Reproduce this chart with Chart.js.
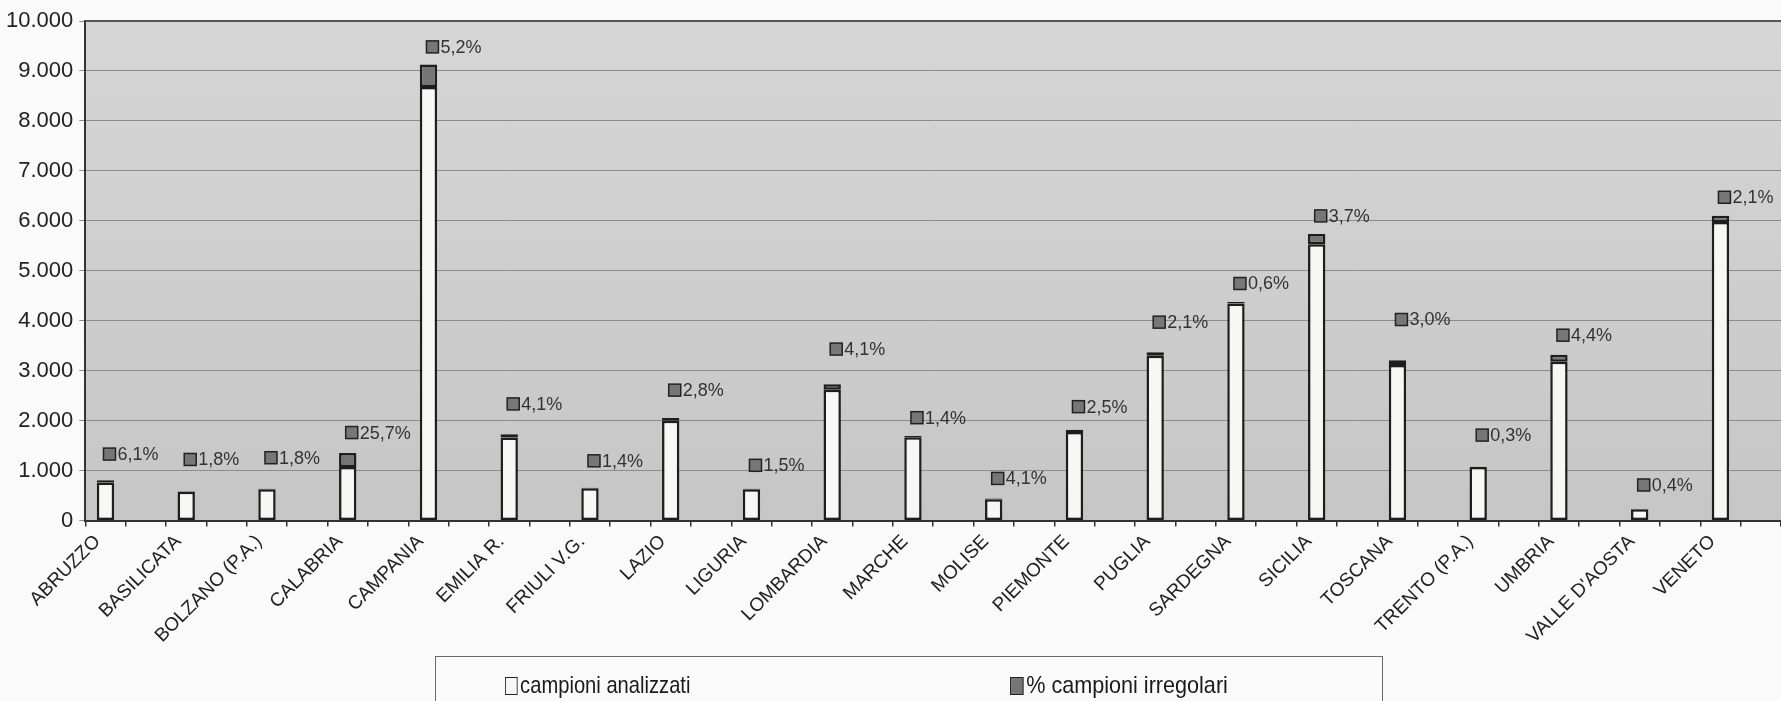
<!DOCTYPE html>
<html>
<head>
<meta charset="utf-8">
<script src="https://cdn.jsdelivr.net/npm/chart.js@4.4.1/dist/chart.umd.min.js"></script>
<style>
    html, body { margin: 0; padding: 0; background: #fafafa; overflow: hidden; }
    #wrap { position: relative; width: 1781px; height: 701px; }
    #legend {
        position: absolute; left: 435px; top: 656px; width: 948px; height: 60px;
        border: 1.5px solid #6a6a6a; box-sizing: border-box;
        font-family: 'Liberation Sans', Arial, sans-serif;
        font-size: 24px; color: #1a1a1a;
    }
    .item { position: absolute; top: 15px; white-space: nowrap; line-height: 26px; transform: scaleX(0.84); transform-origin: left center; }
    .key { display: inline-block; width: 13px; height: 16px; border: 1.5px solid #222; margin-right: 3px; vertical-align: -2px; }
</style>
</head>
<body>
<div id="wrap">
    <canvas id="chart" width="1781" height="701"></canvas>
    <div id="legend">
        <div class="item" style="left: 69px;"><span class="key" style="background:#f7f7f4"></span>campioni analizzati</div>
        <div class="item" style="left: 574px; transform: scaleX(0.9);"><span class="key" style="background:#767676"></span>% campioni irregolari</div>
    </div>
</div>
<script>
// regions, one bar each
const regions = ['ABRUZZO', 'BASILICATA', 'BOLZANO (P.A.)', 'CALABRIA', 'CAMPANIA', 'EMILIA R.', 'FRIULI V.G.',
    'LAZIO', 'LIGURIA', 'LOMBARDIA', 'MARCHE', 'MOLISE', 'PIEMONTE', 'PUGLIA', 'SARDEGNA', 'SICILIA',
    'TOSCANA', 'TRENTO (P.A.)', 'UMBRIA', "VALLE D'AOSTA", 'VENETO'];

// white part of the bar
const analizzati = [760, 577, 624, 1070, 8680, 1660, 647, 1995, 626, 2620, 1668, 425, 1772, 3300, 4346, 5530, 3115, 1072, 3176, 227, 5975];
// dark part on top
const irregolari = [48, 10, 11, 280, 450, 68, 9, 56, 9, 108, 23, 17, 44, 69, 26, 205, 95, 3, 140, 1, 125];
// percentage shown in the labels
const percentuali = [6.1, 1.8, 1.8, 25.7, 5.2, 4.1, 1.4, 2.8, 1.5, 4.1, 1.4, 4.1, 2.5, 2.1, 0.6, 3.7, 3.0, 0.3, 4.4, 0.4, 2.1];
// height (in samples) where each label sits
const labelAt = [1330, 1222, 1257, 1761, 9482, 2334, 1195, 2610, 1105, 3432, 2058, 843, 2279, 3971, 4745, 6098, 4024, 1710, 3710, 711, 6471];

const yTicks = [0, 1000, 2000, 3000, 4000, 5000, 6000, 7000, 8000, 9000, 10000];

// the original sheet has an empty column after every region
const slotLabels = [];
regions.forEach(r => { slotLabels.push(r); slotLabels.push(''); });
function spread(arr) {
    const out = [];
    arr.forEach(v => { out.push(v); out.push(null); });
    return out;
}

function fmtThousands(v) {
    return String(v).replace(/\B(?=(\d{3})+(?!\d))/g, '.');
}

const FONT = "'Liberation Sans', Arial, sans-serif";

// grey plot area + top frame line
const plotBackground = {
    id: 'plotBackground',
    beforeDraw(chart) {
        const { ctx, chartArea: a } = chart;
        const g = ctx.createLinearGradient(0, a.top, 0, a.bottom);
        g.addColorStop(0, '#d6d6d6');
        g.addColorStop(1, '#c6c6c6');
        ctx.save();
        ctx.fillStyle = g;
        ctx.fillRect(a.left, a.top, a.right - a.left, a.bottom - a.top);
        ctx.restore();
    },
    afterDraw(chart) {
        const { ctx, chartArea: a } = chart;
        ctx.save();
        ctx.strokeStyle = '#555';
        ctx.lineWidth = 2;
        ctx.beginPath();
        ctx.moveTo(a.left, a.top);
        ctx.lineTo(a.right, a.top);
        ctx.stroke();
        ctx.restore();
    }
};

// "■6,1%" labels above the bars
const pctLabels = {
    id: 'pctLabels',
    afterDatasetsDraw(chart) {
        const { ctx } = chart;
        const yScale = chart.scales.y;
        const bars = chart.getDatasetMeta(1).data;
        ctx.save();
        ctx.font = '18px ' + FONT;
        ctx.textBaseline = 'middle';
        ctx.textAlign = 'left';
        percentuali.forEach((p, i) => {
            const bar = bars[i * 2];
            if (!bar) return;
            const x = bar.x - 2;
            const y = yScale.getPixelForValue(labelAt[i]);
            ctx.fillStyle = '#777';
            ctx.fillRect(x, y - 6, 12, 12);
            ctx.strokeStyle = '#222';
            ctx.lineWidth = 1.5;
            ctx.strokeRect(x, y - 6, 12, 12);
            ctx.fillStyle = '#333';
            ctx.fillText(p.toFixed(1).replace('.', ',') + '%', x + 14, y + 1);
        });
        ctx.restore();
    }
};

const ctx = document.getElementById('chart').getContext('2d');
new Chart(ctx, {
    type: 'bar',
    data: {
        labels: slotLabels,
        datasets: [{
            label: 'campioni analizzati',
            data: spread(analizzati),
            backgroundColor: '#f7f7f4',
            borderColor: '#1e1e1e',
            borderWidth: 2.5,
            borderSkipped: false,
            barPercentage: 0.43,
            categoryPercentage: 1
        }, {
            label: '% campioni irregolari',
            data: spread(irregolari),
            backgroundColor: '#767676',
            borderColor: '#1e1e1e',
            borderWidth: 2.5,
            borderSkipped: false,
            barPercentage: 0.43,
            categoryPercentage: 1
        }]
    },
    options: {
        responsive: false,
        animation: false,
        layout: { padding: { left: 0, top: 21, right: 0, bottom: 49 } },
        plugins: {
            legend: { display: false },
            tooltip: { enabled: false }
        },
        scales: {
            x: {
                stacked: true,
                offset: true,
                // plot runs to the right edge like the original
                afterFit(scale) { scale.paddingLeft = 0; scale.paddingRight = 0; },
                grid: { drawOnChartArea: false, offset: true, tickLength: 6, color: '#333', lineWidth: 1.5 },
                border: { color: '#333', width: 2 },
                ticks: {
                    autoSkip: false, maxRotation: 45, minRotation: 45, padding: 4, labelOffset: -8,
                    color: '#222', font: { family: FONT, size: 19 }
                }
            },
            y: {
                stacked: true,
                min: 0,
                max: 10000,
                afterBuildTicks(scale) { scale.ticks = yTicks.map(v => ({ value: v })); },
                grid: { color: '#8c8c8c', lineWidth: 1, tickLength: 6 },
                border: { color: '#333', width: 2 },
                ticks: {
                    padding: 6, color: '#222', font: { family: FONT, size: 22 },
                    callback: v => fmtThousands(v)
                }
            }
        }
    },
    plugins: [plotBackground, pctLabels]
});
</script>
</body>
</html>
